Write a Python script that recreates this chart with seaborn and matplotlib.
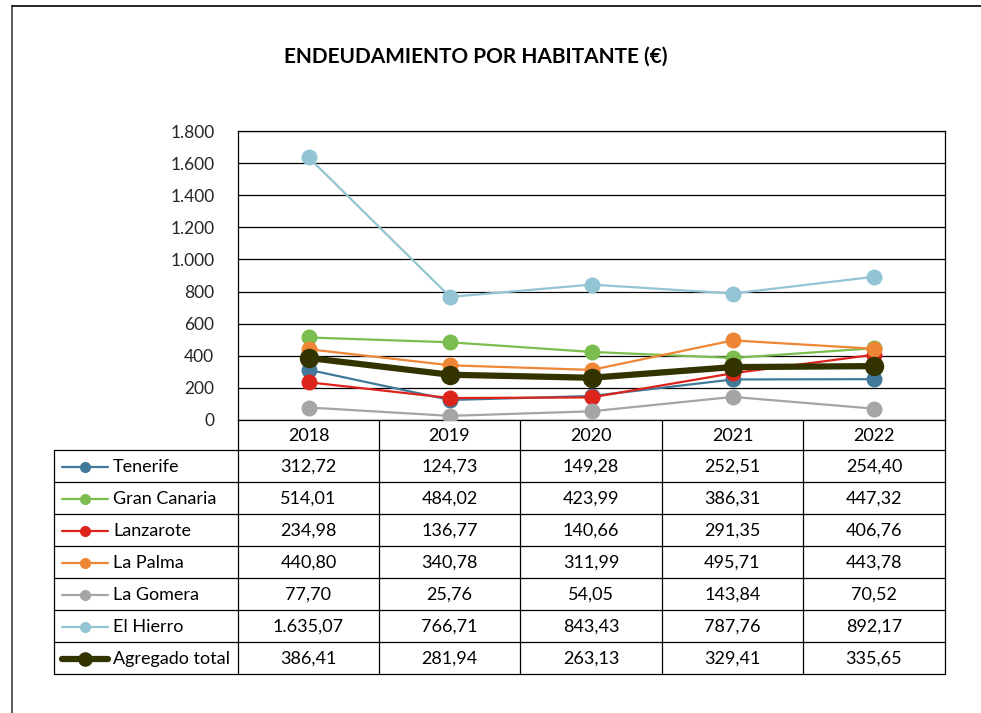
import matplotlib
matplotlib.use("Agg")
import matplotlib.pyplot as plt
import seaborn as sns
import numpy as np
from matplotlib.lines import Line2D

sns.set_theme(style="white")
plt.rcParams['font.family'] = ['Lato', 'DejaVu Sans']

years = ['2018', '2019', '2020', '2021', '2022']
series_names = ['Tenerife', 'Gran Canaria', 'Lanzarote', 'La Palma', 'La Gomera', 'El Hierro', 'Agregado total']
tenerife = [312.72, 124.73, 149.28, 252.51, 254.40]
gran_canaria = [514.01, 484.02, 423.99, 386.31, 447.32]
lanzarote = [234.98, 136.77, 140.66, 291.35, 406.76]
la_palma = [440.80, 340.78, 311.99, 495.71, 443.78]
la_gomera = [77.70, 25.76, 54.05, 143.84, 70.52]
el_hierro = [1635.07, 766.71, 843.43, 787.76, 892.17]
agregado = [386.41, 281.94, 263.13, 329.41, 335.65]
values = [tenerife, gran_canaria, lanzarote, la_palma, la_gomera, el_hierro, agregado]
colors = ['#41799A', '#7CBD4F', '#DC241C', '#EF8636', '#A5A5A5', '#93C4D4', '#333300']
y_ticks = [0, 200, 400, 600, 800, 1000, 1200, 1400, 1600, 1800]
title = 'ENDEUDAMIENTO POR HABITANTE (€)'

def fmt_es(v, dec=2):
    s = f"{v:,.{dec}f}"
    return s.replace(',', 'X').replace('.', ',').replace('X', '.')

W, H = 981, 713
fig = plt.figure(figsize=(W / 100, H / 100), dpi=100)

# overlay in pixel coordinates for frame / table
ov = fig.add_axes([0, 0, 1, 1], zorder=0)
ov.set_xlim(0, W)
ov.set_ylim(H, 0)
ov.axis('off')

# outer frame
ov.plot([12, 12], [6, H], color='#404040', lw=1.2)
ov.plot([12, W], [6, 6], color='black', lw=1.2)

ov.text(476, 57, title, ha='center', va='center', fontsize=15, fontweight='bold', color='black')

# plot area geometry (pixels)
L, R, T, B = 238, 945, 131, 420
ax = fig.add_axes([L / W, 1 - B / H, (R - L) / W, (B - T) / H], zorder=2)
ax.patch.set_alpha(0)

x = np.arange(len(years))
for i, (name, vals, c) in enumerate(zip(series_names, values, colors)):
    total = name == 'Agregado total'
    sns.lineplot(x=x, y=vals, ax=ax, color=c, lw=4.5 if total else 1.6,
                 marker='o', markersize=14 if total else 11.5, markeredgewidth=0,
                 markeredgecolor=c, legend=False, sort=False, zorder=3 + i)

ax.set_xlim(-0.5, len(years) - 0.5)
ax.set_ylim(0, 1800)
ax.set_yticks(y_ticks)
ax.set_yticklabels([fmt_es(v, 0) for v in y_ticks], fontsize=12.5)
ax.set_xticks([])
ax.tick_params(axis='y', length=0, pad=17)
for yv in y_ticks:
    ax.axhline(yv, color='black', lw=0.9, zorder=1)
for s in ax.spines.values():
    s.set_color('black')
    s.set_linewidth(0.9)
ax.set_xlabel('')
ax.set_ylabel('')

# data table
col_edges = [238, 379, 520, 662, 803, 945]
row_edges = [420, 450, 482, 514, 546, 578, 610, 642, 674]
leg_left = 54
lc = 'black'
lw = 0.9
for xe in col_edges:
    ov.plot([xe, xe], [row_edges[0], row_edges[-1]], color=lc, lw=lw)
ov.plot([leg_left, leg_left], [row_edges[1], row_edges[-1]], color=lc, lw=lw)
for ye in row_edges[1:]:
    ov.plot([leg_left, col_edges[-1]], [ye, ye], color=lc, lw=lw)

centers = [(col_edges[i] + col_edges[i + 1]) / 2 for i in range(len(years))]
for cx, yr in zip(centers, years):
    ov.text(cx, (row_edges[0] + row_edges[1]) / 2 + 1, yr, ha='center', va='center', fontsize=13, color='black')

for r, (name, vals, c) in enumerate(zip(series_names, values, colors)):
    cy = (row_edges[r + 1] + row_edges[r + 2]) / 2 + 1
    total = name == 'Agregado total'
    ov.add_line(Line2D([62, 108], [cy, cy], color=c, lw=4.5 if total else 1.6))
    ov.add_line(Line2D([85], [cy], color=c, marker='o', markersize=10.5 if total else 8, markeredgewidth=0))
    ov.text(113, cy, name, ha='left', va='center', fontsize=13, color='black')
    for cx, v in zip(centers, vals):
        ov.text(cx, cy, fmt_es(v), ha='center', va='center', fontsize=13, color='black')

fig.savefig('out.png', dpi=100, facecolor='white')
